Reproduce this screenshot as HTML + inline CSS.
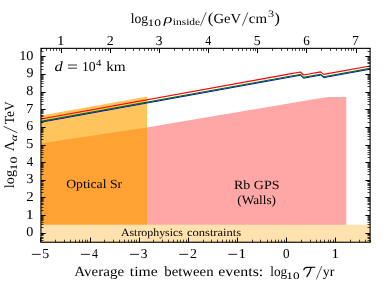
<!DOCTYPE html><html><head><meta charset="utf-8"><style>html,body{margin:0;padding:0;background:#fff;width:390px;height:282px;overflow:hidden}text{text-rendering:geometricPrecision}</style></head><body><svg width="390" height="282" viewBox="0 0 390 282" style="position:absolute;left:0;top:0;will-change:transform">
<rect width="390" height="282" fill="#fff"/>
<polygon points="40.95,115.4 147.1,96.4 147.1,242.25 40.95,242.25" fill="#ffc45c"/>
<polygon points="40.95,143.4 78,137.7 147.1,127.6 147.1,242.25 40.95,242.25" fill="#ffa234"/>
<polygon points="147.1,127.6 170,123.6 210,116.7 280,105 315,98.9 328.5,97.05 346.3,97.05 346.3,242.25 147.1,242.25" fill="#ffa6a6"/>
<rect x="40.95" y="224.7" width="329.15000000000003" height="17.55000000000001" fill="#ffe2ae"/>
<polyline points="40.95,122.20 290.00,77.12 300.40,75.24 303.60,78.20 320.60,75.12 323.70,77.60 370.10,69.20" fill="none" stroke="#0000ff" stroke-width="1.0" stroke-linejoin="round"/>
<polyline points="40.95,121.40 290.00,76.32 300.40,74.44 303.60,77.40 320.60,74.32 323.70,76.80 370.10,68.40" fill="none" stroke="#006c00" stroke-width="1.1" stroke-linejoin="round"/>
<polyline points="40.95,119.00 290.00,73.92 300.40,72.04 303.60,75.00 320.60,71.92 323.70,74.40 370.10,66.00" fill="none" stroke="#ff0000" stroke-width="1.15" stroke-linejoin="round"/>
<rect x="40.95" y="48.35" width="329.15000000000003" height="193.9" fill="none" stroke="#000" stroke-width="1.1"/>
<path d="M40.50,242.25v-4.7 M90.50,242.25v-4.7 M139.50,242.25v-4.7 M188.50,242.25v-4.7 M237.50,242.25v-4.7 M286.50,242.25v-4.7 M335.50,242.25v-4.7 M61.50,48.35v4.7 M110.50,48.35v4.7 M159.50,48.35v4.7 M208.50,48.35v4.7 M257.50,48.35v4.7 M306.50,48.35v4.7 M356.50,48.35v4.7 M40.95,233.50h4.7 M370.1,233.50h-4.7 M40.95,215.50h4.7 M370.1,215.50h-4.7 M40.95,197.50h4.7 M370.1,197.50h-4.7 M40.95,180.50h4.7 M370.1,180.50h-4.7 M40.95,162.50h4.7 M370.1,162.50h-4.7 M40.95,145.50h4.7 M370.1,145.50h-4.7 M40.95,127.50h4.7 M370.1,127.50h-4.7 M40.95,109.50h4.7 M370.1,109.50h-4.7 M40.95,92.50h4.7 M370.1,92.50h-4.7 M40.95,74.50h4.7 M370.1,74.50h-4.7 M40.95,56.50h4.7 M370.1,56.50h-4.7" stroke="#000" stroke-width="1.0" fill="none"/>
<path d="M55.50,242.25v-2.6 M64.50,242.25v-2.6 M70.50,242.25v-2.6 M75.50,242.25v-2.6 M79.50,242.25v-2.6 M82.50,242.25v-2.6 M85.50,242.25v-2.6 M87.50,242.25v-2.6 M104.50,242.25v-2.6 M113.50,242.25v-2.6 M119.50,242.25v-2.6 M124.50,242.25v-2.6 M128.50,242.25v-2.6 M131.50,242.25v-2.6 M134.50,242.25v-2.6 M136.50,242.25v-2.6 M153.50,242.25v-2.6 M162.50,242.25v-2.6 M168.50,242.25v-2.6 M173.50,242.25v-2.6 M177.50,242.25v-2.6 M180.50,242.25v-2.6 M183.50,242.25v-2.6 M186.50,242.25v-2.6 M203.50,242.25v-2.6 M211.50,242.25v-2.6 M217.50,242.25v-2.6 M222.50,242.25v-2.6 M226.50,242.25v-2.6 M229.50,242.25v-2.6 M232.50,242.25v-2.6 M235.50,242.25v-2.6 M252.50,242.25v-2.6 M260.50,242.25v-2.6 M267.50,242.25v-2.6 M271.50,242.25v-2.6 M275.50,242.25v-2.6 M278.50,242.25v-2.6 M281.50,242.25v-2.6 M284.50,242.25v-2.6 M301.50,242.25v-2.6 M310.50,242.25v-2.6 M316.50,242.25v-2.6 M320.50,242.25v-2.6 M324.50,242.25v-2.6 M328.50,242.25v-2.6 M330.50,242.25v-2.6 M333.50,242.25v-2.6 M350.50,242.25v-2.6 M359.50,242.25v-2.6 M365.50,242.25v-2.6 M370.50,242.25v-2.6 M41.50,48.35v2.6 M46.50,48.35v2.6 M50.50,48.35v2.6 M53.50,48.35v2.6 M56.50,48.35v2.6 M59.50,48.35v2.6 M76.50,48.35v2.6 M84.50,48.35v2.6 M90.50,48.35v2.6 M95.50,48.35v2.6 M99.50,48.35v2.6 M102.50,48.35v2.6 M105.50,48.35v2.6 M108.50,48.35v2.6 M125.50,48.35v2.6 M133.50,48.35v2.6 M139.50,48.35v2.6 M144.50,48.35v2.6 M148.50,48.35v2.6 M151.50,48.35v2.6 M154.50,48.35v2.6 M157.50,48.35v2.6 M174.50,48.35v2.6 M182.50,48.35v2.6 M189.50,48.35v2.6 M193.50,48.35v2.6 M197.50,48.35v2.6 M201.50,48.35v2.6 M203.50,48.35v2.6 M206.50,48.35v2.6 M223.50,48.35v2.6 M232.50,48.35v2.6 M238.50,48.35v2.6 M242.50,48.35v2.6 M246.50,48.35v2.6 M250.50,48.35v2.6 M253.50,48.35v2.6 M255.50,48.35v2.6 M272.50,48.35v2.6 M281.50,48.35v2.6 M287.50,48.35v2.6 M292.50,48.35v2.6 M295.50,48.35v2.6 M299.50,48.35v2.6 M302.50,48.35v2.6 M304.50,48.35v2.6 M321.50,48.35v2.6 M330.50,48.35v2.6 M336.50,48.35v2.6 M341.50,48.35v2.6 M345.50,48.35v2.6 M348.50,48.35v2.6 M351.50,48.35v2.6 M353.50,48.35v2.6 M40.95,240.50h2.6 M370.1,240.50h-2.6 M40.95,238.50h2.6 M370.1,238.50h-2.6 M40.95,237.50h2.6 M370.1,237.50h-2.6 M40.95,235.50h2.6 M370.1,235.50h-2.6 M40.95,234.50h2.6 M370.1,234.50h-2.6 M40.95,234.50h2.6 M370.1,234.50h-2.6 M40.95,227.50h2.6 M370.1,227.50h-2.6 M40.95,224.50h2.6 M370.1,224.50h-2.6 M40.95,222.50h2.6 M370.1,222.50h-2.6 M40.95,220.50h2.6 M370.1,220.50h-2.6 M40.95,219.50h2.6 M370.1,219.50h-2.6 M40.95,218.50h2.6 M370.1,218.50h-2.6 M40.95,217.50h2.6 M370.1,217.50h-2.6 M40.95,216.50h2.6 M370.1,216.50h-2.6 M40.95,210.50h2.6 M370.1,210.50h-2.6 M40.95,207.50h2.6 M370.1,207.50h-2.6 M40.95,204.50h2.6 M370.1,204.50h-2.6 M40.95,203.50h2.6 M370.1,203.50h-2.6 M40.95,201.50h2.6 M370.1,201.50h-2.6 M40.95,200.50h2.6 M370.1,200.50h-2.6 M40.95,199.50h2.6 M370.1,199.50h-2.6 M40.95,198.50h2.6 M370.1,198.50h-2.6 M40.95,192.50h2.6 M370.1,192.50h-2.6 M40.95,189.50h2.6 M370.1,189.50h-2.6 M40.95,187.50h2.6 M370.1,187.50h-2.6 M40.95,185.50h2.6 M370.1,185.50h-2.6 M40.95,184.50h2.6 M370.1,184.50h-2.6 M40.95,183.50h2.6 M370.1,183.50h-2.6 M40.95,181.50h2.6 M370.1,181.50h-2.6 M40.95,181.50h2.6 M370.1,181.50h-2.6 M40.95,174.50h2.6 M370.1,174.50h-2.6 M40.95,171.50h2.6 M370.1,171.50h-2.6 M40.95,169.50h2.6 M370.1,169.50h-2.6 M40.95,167.50h2.6 M370.1,167.50h-2.6 M40.95,166.50h2.6 M370.1,166.50h-2.6 M40.95,165.50h2.6 M370.1,165.50h-2.6 M40.95,164.50h2.6 M370.1,164.50h-2.6 M40.95,163.50h2.6 M370.1,163.50h-2.6 M40.95,157.50h2.6 M370.1,157.50h-2.6 M40.95,154.50h2.6 M370.1,154.50h-2.6 M40.95,152.50h2.6 M370.1,152.50h-2.6 M40.95,150.50h2.6 M370.1,150.50h-2.6 M40.95,148.50h2.6 M370.1,148.50h-2.6 M40.95,147.50h2.6 M370.1,147.50h-2.6 M40.95,146.50h2.6 M370.1,146.50h-2.6 M40.95,145.50h2.6 M370.1,145.50h-2.6 M40.95,139.50h2.6 M370.1,139.50h-2.6 M40.95,136.50h2.6 M370.1,136.50h-2.6 M40.95,134.50h2.6 M370.1,134.50h-2.6 M40.95,132.50h2.6 M370.1,132.50h-2.6 M40.95,131.50h2.6 M370.1,131.50h-2.6 M40.95,130.50h2.6 M370.1,130.50h-2.6 M40.95,129.50h2.6 M370.1,129.50h-2.6 M40.95,128.50h2.6 M370.1,128.50h-2.6 M40.95,122.50h2.6 M370.1,122.50h-2.6 M40.95,118.50h2.6 M370.1,118.50h-2.6 M40.95,116.50h2.6 M370.1,116.50h-2.6 M40.95,115.50h2.6 M370.1,115.50h-2.6 M40.95,113.50h2.6 M370.1,113.50h-2.6 M40.95,112.50h2.6 M370.1,112.50h-2.6 M40.95,111.50h2.6 M370.1,111.50h-2.6 M40.95,110.50h2.6 M370.1,110.50h-2.6 M40.95,104.50h2.6 M370.1,104.50h-2.6 M40.95,101.50h2.6 M370.1,101.50h-2.6 M40.95,99.50h2.6 M370.1,99.50h-2.6 M40.95,97.50h2.6 M370.1,97.50h-2.6 M40.95,95.50h2.6 M370.1,95.50h-2.6 M40.95,94.50h2.6 M370.1,94.50h-2.6 M40.95,93.50h2.6 M370.1,93.50h-2.6 M40.95,92.50h2.6 M370.1,92.50h-2.6 M40.95,86.50h2.6 M370.1,86.50h-2.6 M40.95,83.50h2.6 M370.1,83.50h-2.6 M40.95,81.50h2.6 M370.1,81.50h-2.6 M40.95,79.50h2.6 M370.1,79.50h-2.6 M40.95,78.50h2.6 M370.1,78.50h-2.6 M40.95,77.50h2.6 M370.1,77.50h-2.6 M40.95,76.50h2.6 M370.1,76.50h-2.6 M40.95,75.50h2.6 M370.1,75.50h-2.6 M40.95,69.50h2.6 M370.1,69.50h-2.6 M40.95,66.50h2.6 M370.1,66.50h-2.6 M40.95,63.50h2.6 M370.1,63.50h-2.6 M40.95,62.50h2.6 M370.1,62.50h-2.6 M40.95,60.50h2.6 M370.1,60.50h-2.6 M40.95,59.50h2.6 M370.1,59.50h-2.6 M40.95,58.50h2.6 M370.1,58.50h-2.6 M40.95,57.50h2.6 M370.1,57.50h-2.6 M40.95,51.50h2.6 M370.1,51.50h-2.6 M40.95,48.50h2.6 M370.1,48.50h-2.6" stroke="#000" stroke-width="0.72" fill="none"/>
<text transform="translate(56.78,44.60) scale(1.1580,1)" font-size="13.7" font-family="Liberation Serif, serif" fill="#000" >1</text>
<text transform="translate(106.69,44.60) scale(1.0168,1)" font-size="13.7" font-family="Liberation Serif, serif" fill="#000" >2</text>
<text transform="translate(155.78,44.60) scale(0.9873,1)" font-size="13.7" font-family="Liberation Serif, serif" fill="#000" >3</text>
<text transform="translate(205.31,44.60) scale(0.8772,1)" font-size="13.7" font-family="Liberation Serif, serif" fill="#000" >4</text>
<text transform="translate(253.86,44.60) scale(1.0143,1)" font-size="13.7" font-family="Liberation Serif, serif" fill="#000" >5</text>
<text transform="translate(303.25,44.60) scale(0.9528,1)" font-size="13.7" font-family="Liberation Serif, serif" fill="#000" >6</text>
<text transform="translate(352.03,44.60) scale(1.0043,1)" font-size="13.7" font-family="Liberation Serif, serif" fill="#000" >7</text>
<path d="M31.85,254.35h8.9" stroke="#000" stroke-width="0.85"/>
<text transform="translate(42.34,258.20) scale(1.0143,1)" font-size="13.7" font-family="Liberation Serif, serif" fill="#000" >5</text>
<path d="M80.98,254.35h8.9" stroke="#000" stroke-width="0.85"/>
<text transform="translate(92.05,258.20) scale(0.8772,1)" font-size="13.7" font-family="Liberation Serif, serif" fill="#000" >4</text>
<path d="M130.10,254.35h8.9" stroke="#000" stroke-width="0.85"/>
<text transform="translate(140.77,258.20) scale(0.9873,1)" font-size="13.7" font-family="Liberation Serif, serif" fill="#000" >3</text>
<path d="M179.23,254.35h8.9" stroke="#000" stroke-width="0.85"/>
<text transform="translate(189.93,258.20) scale(1.0168,1)" font-size="13.7" font-family="Liberation Serif, serif" fill="#000" >2</text>
<path d="M228.36,254.35h8.9" stroke="#000" stroke-width="0.85"/>
<text transform="translate(238.28,258.20) scale(1.1580,1)" font-size="13.7" font-family="Liberation Serif, serif" fill="#000" >1</text>
<text transform="translate(282.98,258.20) scale(0.9641,1)" font-size="13.7" font-family="Liberation Serif, serif" fill="#000" >0</text>
<text transform="translate(331.23,258.20) scale(1.1580,1)" font-size="13.7" font-family="Liberation Serif, serif" fill="#000" >1</text>
<text transform="translate(26.36,236.25) scale(1.0329,1)" font-size="13.7" font-family="Liberation Serif, serif" fill="#000" >0</text>
<text transform="translate(25.42,218.61) scale(1.2407,1)" font-size="13.7" font-family="Liberation Serif, serif" fill="#000" >1</text>
<text transform="translate(26.26,200.97) scale(1.0894,1)" font-size="13.7" font-family="Liberation Serif, serif" fill="#000" >2</text>
<text transform="translate(26.22,183.33) scale(1.0579,1)" font-size="13.7" font-family="Liberation Serif, serif" fill="#000" >3</text>
<text transform="translate(26.66,165.69) scale(0.9398,1)" font-size="13.7" font-family="Liberation Serif, serif" fill="#000" >4</text>
<text transform="translate(26.04,148.05) scale(1.0867,1)" font-size="13.7" font-family="Liberation Serif, serif" fill="#000" >5</text>
<text transform="translate(26.31,130.41) scale(1.0209,1)" font-size="13.7" font-family="Liberation Serif, serif" fill="#000" >6</text>
<text transform="translate(25.94,112.77) scale(1.0761,1)" font-size="13.7" font-family="Liberation Serif, serif" fill="#000" >7</text>
<text transform="translate(26.36,95.13) scale(1.0329,1)" font-size="13.7" font-family="Liberation Serif, serif" fill="#000" >8</text>
<text transform="translate(26.45,77.49) scale(1.0257,1)" font-size="13.7" font-family="Liberation Serif, serif" fill="#000" >9</text>
<text transform="translate(19.16,59.85) scale(1.0428,1)" font-size="13.7" font-family="Liberation Serif, serif" fill="#000" >10</text>
<text transform="translate(130.73,22.50) scale(0.9813,1)" font-size="13.9" font-family="Liberation Serif, serif" fill="#000" >log</text>
<text transform="translate(147.53,25.50) scale(1.3486,1)" font-size="10.0" font-family="Liberation Serif, serif" fill="#000" >10</text>
<text transform="translate(163.86,22.50) scale(1.3736,1)" font-size="13.0" font-family="Liberation Serif, serif" fill="#000" font-style="italic">ρ</text>
<text transform="translate(172.76,25.40) scale(1.1961,1)" font-size="9.6" font-family="Liberation Serif, serif" fill="#000" >inside</text>
<path d="M200.50,25.78L206.10,12.27" stroke="#000" stroke-width="0.65" fill="none"/>
<text transform="translate(207.67,23.10) scale(1.1220,1)" font-size="15.2" font-family="Liberation Serif, serif" fill="#000" >(</text>
<text transform="translate(213.50,22.50) scale(1.0541,1)" font-size="13.9" font-family="Liberation Serif, serif" fill="#000" >GeV</text>
<path d="M242.30,25.78L247.90,12.27" stroke="#000" stroke-width="0.65" fill="none"/>
<text transform="translate(248.83,22.50) scale(1.0708,1)" font-size="13.9" font-family="Liberation Serif, serif" fill="#000" >cm</text>
<text transform="translate(268.02,17.00) scale(1.2570,1)" font-size="9.8" font-family="Liberation Serif, serif" fill="#000" >3</text>
<text transform="translate(274.25,23.10) scale(1.1220,1)" font-size="15.2" font-family="Liberation Serif, serif" fill="#000" >)</text>
<text transform="translate(74.36,276.10) scale(1.0802,1)" font-size="13.9" font-family="Liberation Serif, serif" fill="#000" >Average</text>
<text transform="translate(129.86,276.10) scale(1.1244,1)" font-size="13.9" font-family="Liberation Serif, serif" fill="#000" >time</text>
<text transform="translate(164.30,276.10) scale(1.0649,1)" font-size="13.9" font-family="Liberation Serif, serif" fill="#000" >between</text>
<text transform="translate(218.28,276.10) scale(1.1429,1)" font-size="13.9" font-family="Liberation Serif, serif" fill="#000" >events:</text>
<text transform="translate(270.24,276.10) scale(0.9523,1)" font-size="13.9" font-family="Liberation Serif, serif" fill="#000" >log</text>
<text transform="translate(286.35,279.10) scale(1.3257,1)" font-size="10.0" font-family="Liberation Serif, serif" fill="#000" >10</text>
<path d="M303.7,270.3C303.9,268.2 305.0,267.3 307.2,267.3L315.3,267.2" stroke="#000" stroke-width="1.15" fill="none"/>
<path d="M311.2,267.3C310.4,270.8 308.6,274.6 306.6,277.0" stroke="#000" stroke-width="1.2" fill="none"/>
<path d="M316.30,279.38L321.90,265.88" stroke="#000" stroke-width="0.65" fill="none"/>
<text transform="translate(322.73,276.10) scale(0.9999,1)" font-size="13.9" font-family="Liberation Serif, serif" fill="#000" >yr</text>
<text transform="translate(13.90,188.19) rotate(-90) scale(1.0277,1)" font-size="13.9" font-family="Liberation Serif, serif" fill="#000" >log</text>
<text transform="translate(16.90,170.50) rotate(-90) scale(1.3829,1)" font-size="10.0" font-family="Liberation Serif, serif" fill="#000" >10</text>
<text transform="translate(13.90,151.33) rotate(-90) scale(1.0190,1)" font-size="13.9" font-family="Liberation Serif, serif" fill="#000" >Λ</text>
<text transform="translate(16.80,141.36) rotate(-90) scale(1.2995,1)" font-size="9.6" font-family="Liberation Serif, serif" fill="#000" font-style="italic">α</text>
<path d="M17.38,132.80L3.47,126.30" stroke="#000" stroke-width="0.75" fill="none"/>
<text transform="translate(13.90,124.24) rotate(-90) scale(0.9690,1)" font-size="13.9" font-family="Liberation Serif, serif" fill="#000" >TeV</text>
<text transform="translate(54.51,70.90) scale(1.1864,1)" font-size="13.9" font-family="Liberation Serif, serif" fill="#000" font-style="italic">d</text>
<path d="M67.9,65.0h9.1M67.9,68.2h9.1" stroke="#000" stroke-width="0.8"/>
<text transform="translate(81.91,70.90) scale(1.0010,1)" font-size="13.7" font-family="Liberation Serif, serif" fill="#000" >10</text>
<text transform="translate(96.00,65.80) scale(1.1177,1)" font-size="9.6" font-family="Liberation Serif, serif" fill="#000" >4</text>
<text transform="translate(106.21,70.90) scale(1.0988,1)" font-size="13.9" font-family="Liberation Serif, serif" fill="#000" >km</text>
<text transform="translate(66.14,187.80) scale(1.0967,1)" font-size="12.5" font-family="Liberation Serif, serif" fill="#000" >Optical Sr</text>
<text transform="translate(233.91,188.50) scale(1.1208,1)" font-size="12.5" font-family="Liberation Serif, serif" fill="#000" >Rb GPS</text>
<text transform="translate(237.33,203.90) scale(1.0593,1)" font-size="12.5" font-family="Liberation Serif, serif" fill="#000" >(Walls)</text>
<text transform="translate(120.89,235.90) scale(1.0700,1)" font-size="11.1" font-family="Liberation Serif, serif" fill="#000" >Astrophysics</text>
<text transform="translate(186.92,235.90) scale(1.1296,1)" font-size="11.1" font-family="Liberation Serif, serif" fill="#000" >constraints</text>
</svg></body></html>
